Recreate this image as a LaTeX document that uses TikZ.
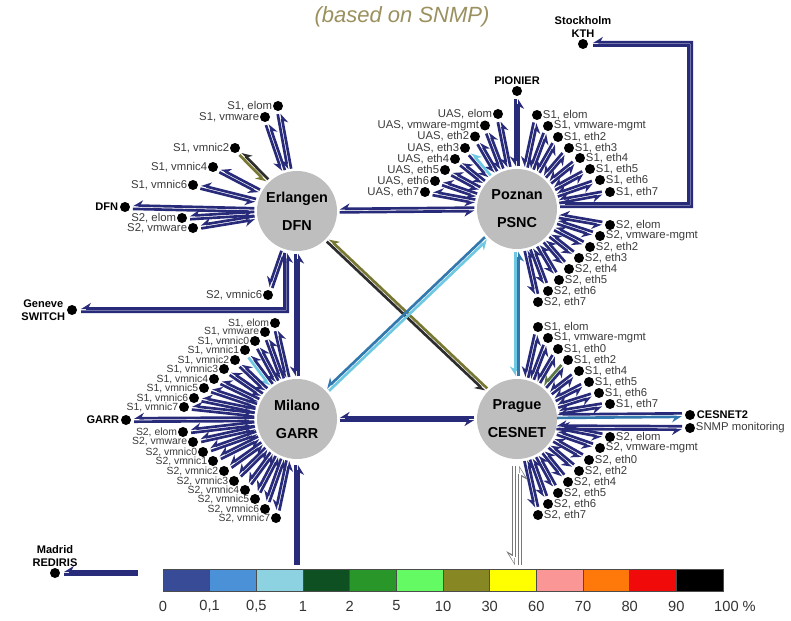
\documentclass[tikz,border=0pt]{standalone}
\usepackage{fontspec}
\setmainfont{Liberation Sans}
\usetikzlibrary{arrows.meta,calc}
\definecolor{nv}{RGB}{40,42,122}
\definecolor{cy}{RGB}{110,200,225}
\definecolor{tl}{RGB}{50,120,175}
\definecolor{ol}{RGB}{120,120,50}
\definecolor{dk}{RGB}{45,45,45}
\definecolor{gr}{RGB}{90,120,70}
\definecolor{hubgray}{RGB}{190,190,190}
\definecolor{lblgray}{RGB}{60,60,60}
\definecolor{ttlcol}{RGB}{155,145,95}
\definecolor{holgray}{RGB}{120,120,120}
\definecolor{lg1}{RGB}{55,75,150}
\definecolor{lg2}{RGB}{75,145,215}
\definecolor{lg3}{RGB}{140,210,225}
\definecolor{lg4}{RGB}{15,80,35}
\definecolor{lg5}{RGB}{40,150,40}
\definecolor{lg6}{RGB}{100,250,100}
\definecolor{lg7}{RGB}{135,135,35}
\definecolor{lg8}{RGB}{255,255,0}
\definecolor{lg9}{RGB}{250,150,150}
\definecolor{lg10}{RGB}{255,120,10}
\definecolor{lg11}{RGB}{240,10,10}
\definecolor{lg12}{RGB}{0,0,0}
\tikzset{
  hub/.style={circle, fill=hubgray, minimum size=60pt, inner sep=0pt,
    font=\bfseries\fontsize{10.8}{12}\selectfont, align=center},
  dot/.style={circle, fill=black, minimum size=7.5pt, inner sep=0pt},
  lbl/.style={font=\fontsize{8.5}{9}\selectfont, text=lblgray, inner sep=0.3pt},
  mlbl/.style={font=\fontsize{7.8}{8}\selectfont, text=lblgray, inner sep=0.3pt},
  blbl/.style={font=\bfseries\fontsize{8.3}{9.5}\selectfont, inner sep=1pt, align=center},
  lk/.style={line width=2pt, -{Stealth[harpoon,swap,length=6.5pt,width=8pt]}},
  plain/.style={line width=2pt},
  holout/.style={draw=holgray, line width=3.4pt, -{Stealth[harpoon,swap,length=9pt,width=11pt]}},
  holin/.style={draw=white, line width=1.9pt, shorten >=1.2pt, -{Stealth[harpoon,swap,length=6pt,width=7pt]}},
  legbox/.style={draw=black!70, line width=0.4pt, minimum width=35pt, minimum height=16.5pt, inner sep=0pt},
  leglbl/.style={font=\fontsize{11}{12}\selectfont, text=black!80},
  ttl/.style={font=\itshape\fontsize{16.5}{18}\selectfont, text=ttlcol}
}
\newcommand\DL[4]{%
  \draw[lk,#3] ($(#1)!1.3pt!-90:(#2)$) -- ($(#2)!1.3pt!90:(#1)$);
  \draw[lk,#4] ($(#2)!1.3pt!-90:(#1)$) -- ($(#1)!1.3pt!90:(#2)$);}
\newcommand\SPK[5]{%
  \coordinate (sA) at ($(#1.center)!32pt!(#2.center)$);
  \coordinate (sB) at ($(#2.center)!#3!(#1.center)$);
  \DL{sA}{sB}{#4}{#5}}
\begin{document}
\begin{tikzpicture}[x=0.75pt, y=-0.75pt]
\useasboundingbox (0,0) rectangle (791,620);
\fill[white] (0,0) rectangle (791,620);

\node[ttl] (ttl) at (402,17) {(based on SNMP)};

% hubs
\node[hub] (E) at (297,211) {Erlangen\\[9pt]DFN};
\node[hub] (P) at (517,209) {Poznan\\[9pt]PSNC};
\node[hub] (M) at (297,419) {Milano\\[9pt]GARR};
\node[hub] (C) at (517,419) {Prague\\[9pt]CESNET};

% hub-to-hub links
\SPK{E}{P}{32pt}{nv}{nv}
\SPK{M}{C}{32pt}{nv}{nv}
\SPK{E}{M}{32pt}{nv}{nv}
\SPK{P}{C}{32pt}{cy}{tl}
\SPK{E}{C}{32pt}{dk}{ol}
\SPK{P}{M}{32pt}{tl}{cy}

% Erlangen spokes (labels left)
\foreach \n/\x/\y/\t/\ca/\cb in {
  e1/278/106/{S1, elom}/nv/nv, e2/265/117/{S1, vmware}/nv/nv,
  e3/235/148/{S1, vmnic2}/dk/ol, e4/213/167/{S1, vmnic4}/nv/nv,
  e5/193/185/{S1, vmnic6}/nv/nv, e6/182/218/{S2, elom}/nv/nv,
  e7/193/228/{S2, vmware}/nv/nv, e8/268/295/{S2, vmnic6}/nv/nv}{
  \node[dot] (\n) at (\x,\y) {};
  \node[lbl,anchor=east] at (\n.west) {\t};
  \SPK{E}{\n}{6pt}{\ca}{\cb}
}
\node[dot] (dfn) at (125,207) {};
\node[blbl,anchor=east] at (dfn.west) {DFN};
\SPK{E}{dfn}{6pt}{nv}{nv}

% Geneve
\node[dot] (gen) at (72,310) {};
\node[blbl,anchor=east] at (gen.west) {Geneve\\SWITCH};
\coordinate (g1) at (286,310);
\draw[lk,nv] ($(E.center)+(-12.7,42)$) -- ($(g1)+(-1.7,-1.7)$) -- ($(gen)+(9,-1.7)$);
\draw[lk,nv] ($(gen)+(9,1.7)$) -- ($(g1)+(1.7,1.7)$) -- ($(E.center)+(-9.3,42)$);

% Poznan spokes left (UAS)
\foreach \n/\x/\y/\t/\ca/\cb in {
  u1/498/114/{UAS, elom}/nv/nv, u2/485/125.5/{UAS, vmware-mgmt}/nv/nv,
  u3/475/136.5/{UAS, eth2}/nv/nv, u4/465/148/{UAS, eth3}/cy/nv,
  u5/455/159/{UAS, eth4}/nv/nv, u6/445/170/{UAS, eth5}/nv/nv,
  u7/435/181/{UAS, eth6}/nv/nv, u8/425/192/{UAS, eth7}/nv/nv}{
  \node[dot] (\n) at (\x,\y) {};
  \node[lbl,anchor=east] at (\n.west) {\t};
  \SPK{P}{\n}{6pt}{\ca}{\cb}
}
% Poznan spokes right
\foreach \n/\x/\y/\t in {
  p1/537/115/{S1, elom}, p2/548/126/{S1, vmware-mgmt}, p3/558/137/{S1, eth2},
  p4/569/148/{S1, eth3}, p5/580/158/{S1, eth4}, p6/590/169/{S1, eth5},
  p7/600/180/{S1, eth6}, p8/610/192/{S1, eth7},
  q1/610/225/{S2, elom}, q2/600/236/{S2, vmware-mgmt}, q3/590/247/{S2, eth2},
  q4/579/258/{S2, eth3}, q5/569/269/{S2, eth4}, q6/559/280/{S2, eth5},
  q7/548/291/{S2, eth6}, q8/538/302/{S2, eth7}}{
  \node[dot] (\n) at (\x,\y) {};
  \node[lbl,anchor=west] at (\n.east) {\t};
  \SPK{P}{\n}{6pt}{nv}{nv}
}
% PIONIER
\node[dot] (pio) at (517,91) {};
\node[blbl,anchor=south] at (pio.north) {PIONIER};
\SPK{P}{pio}{6pt}{nv}{nv}
% Stockholm
\node[dot] (stk) at (583,44) {};
\node[blbl,anchor=south] at (stk.north) {Stockholm\\KTH};
\coordinate (k1) at (690,205);
\coordinate (k2) at (690,44);
\draw[lk,nv] ($(P.center)+(43,-2.3)$) -- ($(k1)+(1.7,1.7)$) -- ($(k2)+(1.7,-1.7)$) -- ($(stk)+(10,-1.7)$);
\draw[lk,nv] ($(stk)+(10,1.7)$) -- ($(k2)+(-1.7,1.7)$) -- ($(k1)+(-1.7,-1.7)$) -- ($(P.center)+(43,-5.7)$);

% Milano spokes (labels left)
\foreach \n/\x/\y/\t/\ca/\cb in {
  m1/275/323/{S1, elom}/nv/nv, m2/265/332/{S1, vmware}/nv/nv,
  m3/255/341/{S1, vmnic0}/nv/nv, m4/245/350/{S1, vmnic1}/nv/cy,
  m5/235/360/{S1, vmnic2}/nv/nv, m6/224/369/{S1, vmnic3}/nv/nv,
  m7/214/379/{S1, vmnic4}/nv/nv, m8/204/388/{S1, vmnic5}/nv/nv,
  m9/194/398/{S1, vmnic6}/nv/nv, m10/184/407/{S1, vmnic7}/nv/nv,
  n1/183/432/{S2, elom}/nv/nv, n2/193/442/{S2, vmware}/nv/nv,
  n3/203/452/{S2, vmnic0}/nv/nv, n4/213/461/{S2, vmnic1}/nv/nv,
  n5/224/471/{S2, vmnic2}/nv/nv, n6/234/481/{S2, vmnic3}/nv/nv,
  n7/245/490/{S2, vmnic4}/nv/nv, n8/255/499/{S2, vmnic5}/nv/nv,
  n9/265/509/{S2, vmnic6}/nv/nv, n10/276/518/{S2, vmnic7}/nv/nv}{
  \node[dot] (\n) at (\x,\y) {};
  \node[mlbl,anchor=east] at (\n.west) {\t};
  \SPK{M}{\n}{6pt}{\ca}{\cb}
}
\node[dot] (garr) at (126,420) {};
\node[blbl,anchor=east] at (garr.west) {GARR};
\SPK{M}{garr}{6pt}{nv}{nv}

% Milano downward line and Madrid
\coordinate (mb) at (297,565);
\draw[plain,nv] ($(M.center)+(-1.7,46)$) -- ($(mb)+(-1.7,0)$);
\draw[lk,nv] ($(mb)+(1.7,0)$) -- ($(M.center)+(1.7,46)$);
\node[dot] (mad) at (55,573) {};
\node[blbl,anchor=south] at (mad.north) {Madrid\\REDIRIS};
\coordinate (md) at (138,573);
\draw[lk,nv] ($(md)+(0,-1.7)$) -- ($(mad)+(9,-1.7)$);
\draw[plain,nv] ($(mad)+(9,1.7)$) -- ($(md)+(0,1.7)$);

% Prague spokes (labels right)
\foreach \n/\x/\y/\t/\ca/\cb in {
  c1/538/327/{S1, elom}/nv/nv, c2/548/338/{S1, vmware-mgmt}/nv/nv,
  c3/558/349/{S1, eth0}/nv/nv, c4/568/360/{S1, eth2}/nv/gr,
  c5/579/371/{S1, eth4}/nv/nv, c6/589/382/{S1, eth5}/nv/nv,
  c7/599/393/{S1, eth6}/nv/nv, c8/610/404/{S1, eth7}/nv/nv,
  d1/610/437/{S2, elom}/nv/nv, d2/600/448/{S2, vmware-mgmt}/nv/nv,
  d3/589/460/{S2, eth0}/nv/nv, d4/579/471/{S2, eth2}/nv/nv,
  d5/568/482/{S2, eth4}/nv/nv, d6/558/493/{S2, eth5}/nv/nv,
  d7/548/504/{S2, eth6}/nv/nv, d8/538/515/{S2, eth7}/nv/nv}{
  \node[dot] (\n) at (\x,\y) {};
  \node[lbl,anchor=west] at (\n.east) {\t};
  \SPK{C}{\n}{6pt}{\ca}{\cb}
}
% CESNET2 and SNMP monitoring
\node[dot] (ces) at (690,415) {};
\node[blbl,anchor=west] at (ces.east) {CESNET2};
\node[dot] (snmp) at (690,428) {};
\node[lbl,anchor=west] at (snmp.east) {SNMP monitoring};
\coordinate (cA) at (C.4);
\coordinate (cB) at ($(ces.center)!6pt!(cA)$);
\DL{cA}{cB}{tl}{nv}
\coordinate (cC) at (C.-12);
\coordinate (cD) at ($(snmp.center)!6pt!(cC)$);
\DL{cC}{cD}{nv}{nv}

% Prague downward hollow link
\coordinate (pb) at (517,565);
\coordinate (pt) at ($(C.center)+(0,47)$);
\draw[holout] ($(pb)+(3.2,0)$) -- ($(pt)+(3.2,0)$);
\draw[holout] ($(pt)+(-3.2,0)$) -- ($(pb)+(-3.2,0)$);
\draw[holin] ($(pb)+(3.2,0)$) -- ($(pt)+(3.2,0)$);
\draw[holin] ($(pt)+(-3.2,0)$) -- ($(pb)+(-3.2,0)$);

% legend
\foreach \c [count=\i from 0] in {lg1,lg2,lg3,lg4,lg5,lg6,lg7,lg8,lg9,lg10,lg11,lg12}{
  \node[legbox, fill=\c] (L\i) at ({163+46.667*\i+23.333}, 580) {};
}
\foreach \t [count=\i from 0] in {0,{0,1},{0,5},1,2,5,10,30,60,70,80,90}{
  \node[leglbl] (T\i) at ({163+46.667*\i}, 606) {\t};
}
\node[leglbl] (T12) at (735,606) {100 \%};
\end{tikzpicture}
\end{document}
